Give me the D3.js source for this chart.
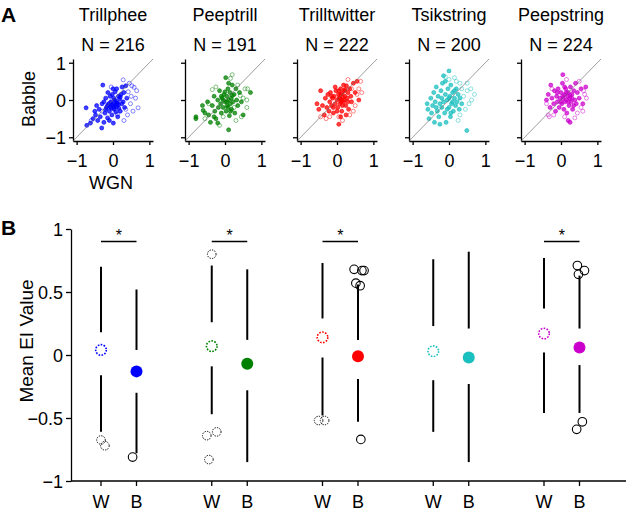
<!DOCTYPE html>
<html lang="en">
<head>
    <meta charset="UTF-8">
    <script src="https://cdn.jsdelivr.net/npm/d3@7"></script>
    <title>EI values</title>
    <style>
        body {
            margin: 0;
            background: white;
        }
        svg text {
            font-family: "Liberation Sans", Arial, sans-serif;
            fill: black;
        }
        .axis path, .axis line {
            stroke: black;
            stroke-width: 1.3px;
        }
        .axis text {
            font-size: 18px;
        }
    </style>
</head>
<body>
    <svg id="chart" width="627" height="515"></svg>

    <script>
        const species = ["Trillphee", "Peeptrill", "Trilltwitter", "Tsikstring", "Peepstring"];
        const counts = [216, 191, 222, 200, 224];
        const colors = ["#0000ff", "#008000", "#ff0000", "#1abfbf", "#cc00cc"];

        // scatter points [WGN, Babble, filled]
        const trillpheePts = [[-0.72,-0.68,1],[-0.62,-0.62,1],[-0.55,-0.5,1],[-0.74,-0.21,1],[-0.48,-0.4,1],[-0.42,-0.55,1],[-0.38,-0.25,1],[-0.35,-0.45,1],[-0.31,-0.75,1],[-0.3,-0.1,1],[-0.28,0.4,1],[-0.25,-0.6,1],[-0.22,-0.35,1],[-0.2,0.05,1],[-0.18,-0.2,1],[-0.15,-0.48,1],[-0.14,0.2,1],[-0.12,-0.1,1],[-0.1,-0.3,1],[-0.08,0.1,1],[-0.06,-0.05,1],[-0.05,-0.22,1],[-0.03,-0.4,1],[-0.02,0.15,1],[0,-0.12,1],[0.01,-0.62,1],[0.02,0.05,1],[0.03,-0.25,1],[0.05,-0.15,1],[0.06,0.22,1],[0.07,-0.05,1],[0.08,-0.32,1],[0.1,-0.18,1],[0.1,0.3,1],[0.12,-0.08,1],[0.13,-0.45,1],[0.15,0.1,1],[0.16,-0.22,1],[0.18,0.02,1],[0.2,-0.3,1],[0.22,0.15,1],[0.24,-0.1,1],[0.25,0.35,1],[0.28,-0.05,1],[0.3,0.2,1],[0.32,-0.2,1],[0.35,0.38,1],[0.38,0.05,1],[-0.45,-0.15,1],[-0.5,-0.3,1],[-0.1,-0.55,1],[0,0.3,1],[-0.25,-0.05,1],[0.05,0,1],[-0.15,-0.15,1],[0.1,-0.1,1],[-0.05,-0.1,1],[0.15,-0.12,1],[0.02,-0.2,1],[-0.08,-0.18,1],[0.2,0.08,1],[-0.2,-0.25,1],
            [0.28,0.54,0],[0.58,0.34,0],[0.69,-0.21,0],[0.45,0.45,0],[0.5,0.1,0],[0.62,0.05,0],[0.55,-0.3,0],[0.4,-0.4,0],[0.65,0.25,0],[0.42,0.22,0],[0.3,-0.55,0],[0.48,-0.1,0],[-0.3,-0.3,0],[-0.6,-0.55,0],[0.12,-0.38,0],[0.35,-0.25,0],[0.52,0.38,0],[-0.05,0.35,0]];
        const peeptrillPts = [[-0.8,-0.45,1],[-0.8,-0.5,1],[-0.62,-0.15,1],[-0.6,-0.28,1],[-0.55,-0.35,1],[-0.48,-0.05,1],[-0.45,-0.4,1],[-0.4,-0.6,1],[-0.35,-0.15,1],[-0.3,0.1,1],[-0.28,-0.3,1],[-0.25,-0.5,1],[-0.2,0,1],[-0.18,-0.2,1],[-0.15,0.25,1],[-0.12,-0.1,1],[-0.1,-0.35,1],[-0.08,0.05,1],[-0.05,-0.2,1],[-0.03,0.15,1],[0,-0.05,1],[0.02,0.6,1],[0.03,-0.3,1],[0.05,0.1,1],[0.06,-0.15,1],[0.08,0.3,1],[0.1,-0.8,1],[0.1,0,1],[0.12,-0.42,1],[0.14,0.2,1],[0.15,-0.1,1],[0.17,0.05,1],[0.18,-0.25,1],[0.2,0.4,1],[0.22,-0.05,1],[0.25,0.15,1],[0.27,-0.35,1],[0.3,0.3,1],[0.32,0,1],[0.35,-0.15,1],[0.4,0.2,1],[0.45,-0.05,1],[0.5,-0.4,1],[0.7,0.2,1],[-0.2,-0.62,1],[0,0.22,1],[-0.1,0.1,1],[0.08,-0.2,1],[0.2,0.12,1],[0.05,-0.05,1],[-0.05,0,1],[0.15,-0.3,1],[0.1,0.45,1],[-0.3,-0.45,1],
            [0.2,0.68,0],[0.15,0.58,0],[-0.35,0.28,0],[-0.15,-0.68,0],[0.55,0.3,0],[0.6,0,0],[0.6,-0.2,0],[0.45,-0.45,0],[0.35,0.4,0],[-0.45,-0.1,0],[-0.55,-0.5,0],[0.3,-0.55,0],[0.62,0.3,0],[0.42,0.12,0],[-0.05,-0.45,0],[0.5,0.05,0],[-0.25,0.35,0],[0.25,-0.2,0]];
        const trilltwitterPts = [[-0.55,-0.1,1],[-0.5,-0.25,1],[-0.45,0.25,1],[-0.4,-0.15,1],[-0.35,-0.4,1],[-0.32,0.05,1],[-0.28,-0.2,1],[-0.25,0.15,1],[-0.22,-0.3,1],[-0.2,-0.05,1],[-0.18,0.2,1],[-0.15,-0.15,1],[-0.12,0.05,1],[-0.1,-0.35,1],[-0.08,0.1,1],[-0.05,-0.1,1],[-0.03,0.25,1],[0,0,1],[0.02,-0.2,1],[0.04,0.15,1],[0.05,-0.65,1],[0.06,0.05,1],[0.08,-0.1,1],[0.1,0.3,1],[0.11,0,1],[0.13,-0.3,1],[0.14,0.18,1],[0.16,0.08,1],[0.18,-0.05,1],[0.2,0.25,1],[0.22,0.1,1],[0.24,-0.15,1],[0.26,0.38,1],[0.28,0.05,1],[0.3,0.2,1],[0.32,-0.25,1],[0.35,0.3,1],[0.38,0.1,1],[0.4,-0.05,1],[0.45,0.45,1],[0.5,0.2,1],[0.55,0.5,1],[0.6,0,1],[0.1,-0.45,1],[-0.05,0.35,1],[0.18,0.4,1],[0,-0.3,1],[0.25,-0.4,1],[0.1,0.15,1],[0.15,-0.15,1],[0.05,0.25,1],[-0.1,-0.2,1],[0.2,0,1],[0.3,-0.05,1],[-0.15,0.1,1],[0.08,0.05,1],[0.22,0.28,1],[0.12,-0.05,1],
            [0.65,0.5,0],[0.3,0.55,0],[0.45,-0.3,0],[0.55,0.15,0],[0.68,0.2,0],[-0.3,-0.5,0],[0.15,-0.55,0],[0.4,0.3,0],[0.5,-0.15,0],[-0.45,-0.45,0],[0.35,-0.4,0],[0.6,0.3,0],[-0.2,-0.45,0],[0.05,-0.45,0]];
        const tsikstringPts = [[-0.6,-0.1,1],[-0.58,-0.25,1],[-0.55,-0.5,1],[-0.5,0.05,1],[-0.48,-0.35,1],[-0.45,-0.15,1],[-0.42,0.2,1],[-0.4,-0.6,1],[-0.38,-0.05,1],[-0.35,0.35,1],[-0.32,-0.3,1],[-0.3,0.1,1],[-0.28,-0.45,1],[-0.25,-0.1,1],[-0.22,0.25,1],[-0.2,-0.2,1],[-0.18,0.45,1],[-0.15,0.65,1],[-0.15,-0.05,1],[-0.12,-0.35,1],[-0.1,0.15,1],[-0.08,-0.6,1],[-0.05,0,1],[-0.03,0.3,1],[0,0.78,1],[0,-0.2,1],[0.02,0.1,1],[0.04,-0.45,1],[0.05,0.4,1],[0.07,-0.1,1],[0.1,0.2,1],[0.12,-0.3,1],[0.15,0.05,1],[0.18,-0.15,1],[0.2,0.3,1],[0.22,-0.05,1],[0.25,0.15,1],[0.28,-0.25,1],[0.3,0.05,1],[0.35,-0.1,1],[0.49,-0.82,1],[-0.25,-0.65,1],[-0.1,0.5,1],[0.1,-0.05,1],[-0.05,-0.25,1],[0.15,0.25,1],[-0.2,0.05,1],[0.05,-0.35,1],[0,0.05,1],[-0.35,-0.2,1],
            [0.15,0.6,0],[0.3,0.45,0],[0.5,0.25,0],[0.6,0.3,0],[0.62,0,0],[0.7,0.15,0],[0.55,-0.1,0],[0.4,0.1,0],[0.45,-0.25,0],[0.35,0.3,0],[0.2,0.5,0],[-0.1,0.62,0],[0.3,-0.4,0],[0.5,0.45,0],[0.25,-0.55,0],[0,0.55,0]];
        const peepstringPts = [[-0.4,0,1],[-0.35,0.15,1],[-0.3,-0.2,1],[-0.28,0.4,1],[-0.25,0.05,1],[-0.2,-0.1,1],[-0.18,0.25,1],[-0.15,-0.3,1],[-0.12,0.1,1],[-0.1,-0.05,1],[-0.08,0.3,1],[-0.05,-0.2,1],[-0.03,0.05,1],[0,0.2,1],[0.02,-0.1,1],[0.04,0.45,1],[0.05,0.68,1],[0.06,0.05,1],[0.08,-0.25,1],[0.1,0.15,1],[0.11,-0.05,1],[0.13,0.3,1],[0.15,0,1],[0.16,-0.35,1],[0.18,0.1,1],[0.2,-0.55,1],[0.2,0.2,1],[0.22,-0.15,1],[0.24,0.05,1],[0.26,0.35,1],[0.28,-0.05,1],[0.3,0.15,1],[0.32,-0.25,1],[0.35,0.25,1],[0.38,0,1],[0.4,0.45,1],[0.42,-0.1,1],[0.45,0.2,1],[0.5,0.05,1],[0.55,0.3,1],[0.6,-0.1,1],[0.68,0.35,1],[0.25,-0.6,1],[0.1,0.35,1],[0.2,-0.05,1],[0.05,0.1,1],[0.3,0.05,1],[0.15,0.2,1],[0,-0.05,1],[0.25,0.12,1],[-0.1,0.2,1],[0.35,-0.15,1],
            [-0.4,-0.1,0],[-0.35,-0.4,0],[-0.32,-0.45,0],[0.6,-0.3,0],[0.65,0.15,0],[0.7,0.05,0],[0.45,-0.35,0],[0.1,-0.45,0],[0.38,-0.48,0],[0.5,0.5,0],[0.55,-0.2,0],[-0.2,-0.4,0],[0.15,0.55,0],[-0.25,0.3,0],[0.62,0.25,0]];
        const scatterData = [trillpheePts, peeptrillPts, trilltwitterPts, tsikstringPts, peepstringPts];

        // panel B: whisker ends, quartiles, medians (W = white noise, B = babble)
        const wHi = [0.70, 0.71, 0.73, 0.76, 0.77];
        const wQ3 = [0.18, 0.26, 0.29, 0.23, 0.37];
        const wMed = [0.04, 0.07, 0.14, 0.03, 0.17];
        const wQ1 = [-0.16, -0.09, -0.02, -0.20, 0.02];
        const wLo = [-0.61, -0.47, -0.48, -0.61, -0.46];
        const bHi = [0.52, 0.68, 0.56, 0.82, 0.63];
        const bQ3 = [0.04, 0.12, 0.12, 0.21, 0.21];
        const bMed = [-0.13, -0.07, -0.01, -0.02, 0.06];
        const bQ1 = [-0.30, -0.28, -0.19, -0.23, -0.08];
        const bLo = [-0.78, -0.85, -0.53, -0.85, -0.46];
        const significant = [true, true, true, false, true];
        // outliers [species, condition (0 = W, 1 = B) + jitter, value]
        const outliers = [
            [0, 0.00, -0.675], [0, 0.11, -0.72], [0, 0.89, -0.81],
            [1, 0.00, 0.80], [1, -0.14, -0.64], [1, 0.14, -0.61], [1, -0.08, -0.83],
            [2, -0.11, -0.52], [2, 0.06, -0.52],
            [2, 0.89, 0.68], [2, 1.11, 0.67], [2, 1.17, 0.67], [2, 0.94, 0.57], [2, 1.06, 0.55], [2, 1.08, -0.67],
            [4, 0.94, 0.71], [4, 1.14, 0.67], [4, 0.97, 0.64], [4, 1.08, -0.53], [4, 0.92, -0.59]
        ];
        const condLabels = ["W", "B"];

        const svg = d3.select("#chart");

        // ---------- panel A ----------
        const panelCenters = d3.scalePoint().domain(species).range([113, 561]);
        const yA = d3.scaleLinear().domain([-1.1, 1.1]).range([141, 59]);

        species.forEach((name, i) => {
            const cx = panelCenters(name);
            const xA = d3.scaleLinear().domain([-1.1, 1.1]).range([cx - 40, cx + 40]);
            const g = svg.append("g");

            g.append("g").attr("class", "axis")
                .attr("transform", "translate(0,141)")
                .call(d3.axisBottom(xA).tickValues([-1, 0, 1]).tickSize(4).tickSizeOuter(0).tickFormat(d3.format("d")))
                .selectAll("text").attr("dy", "1.05em");
            g.append("g").attr("class", "axis")
                .attr("transform", `translate(${cx - 40},0)`)
                .call(d3.axisLeft(yA).tickValues([-1, 0, 1]).tickSize(4).tickSizeOuter(0)
                    .tickFormat(i === 0 ? d3.format("d") : ""))
                .selectAll("text").attr("dy", "0.35em");

            // open circles first, filled ones on top
            const pts = scatterData[i].slice().sort((a, b) => a[2] - b[2]);
            g.selectAll("circle.pt")
                .data(pts)
                .enter().append("circle")
                .attr("class", "pt")
                .attr("cx", d => xA(d[0]))
                .attr("cy", d => yA(d[1]))
                .attr("r", 2)
                .attr("fill", d => d[2] ? colors[i] : "none")
                .attr("fill-opacity", 0.75)
                .attr("stroke", colors[i])
                .attr("stroke-opacity", d => d[2] ? 0.8 : 0.6)
                .attr("stroke-width", 0.8);

            g.append("line")
                .attr("x1", xA(-1.1)).attr("y1", yA(-1.1))
                .attr("x2", xA(1.1)).attr("y2", yA(1.1))
                .attr("stroke", "#666").attr("stroke-opacity", 0.8).attr("stroke-width", 0.8);

            g.append("text").attr("x", cx).attr("y", 21)
                .attr("text-anchor", "middle").style("font-size", "18px").text(name);
            g.append("text").attr("x", cx).attr("y", 51)
                .attr("text-anchor", "middle").style("font-size", "18px").text(`N = ${counts[i]}`);
        });

        svg.append("text").attr("x", 1).attr("y", 22)
            .style("font-size", "21px").style("font-weight", "bold").text("A");
        svg.append("text").attr("transform", "translate(35,99) rotate(-90)")
            .attr("text-anchor", "middle").style("font-size", "18px").text("Babble");
        svg.append("text").attr("x", 111).attr("y", 189)
            .attr("text-anchor", "middle").style("font-size", "18px").text("WGN");

        // ---------- panel B ----------
        const groupX = d3.scalePoint().domain(species).range([101, 544]);
        const condX = d3.scaleLinear().domain([0, 1]).range([0, 35.5]);
        const yB = d3.scaleLinear().domain([-1, 1]).range([481, 229]);
        const px = (i, c) => groupX(species[i]) + condX(c);

        svg.append("g").attr("class", "axis")
            .attr("transform", "translate(71,0)")
            .call(d3.axisLeft(yB).tickValues([-1, -0.5, 0, 0.5, 1]).tickSize(5).tickSizeOuter(0)
                .tickFormat(d => d === 0 || Math.abs(d) === 1 ? d3.format("d")(d) : d3.format(".1f")(d)))
            .selectAll("text").attr("dy", "0.35em");

        svg.append("line")
            .attr("x1", 71).attr("x2", 626)
            .attr("y1", yB(-1)).attr("y2", yB(-1))
            .attr("stroke", "black").attr("stroke-width", 1.3);

        species.forEach((name, i) => {
            [0, 1].forEach(c => {
                const x = px(i, c);
                svg.append("line")
                    .attr("x1", x).attr("x2", x)
                    .attr("y1", yB(-1)).attr("y2", yB(-1) + 5)
                    .attr("stroke", "black").attr("stroke-width", 1.3);
                svg.append("text")
                    .attr("x", x).attr("y", 508)
                    .attr("text-anchor", "middle").style("font-size", "18px")
                    .text(condLabels[c]);
            });
        });

        const boxes = [];
        species.forEach((name, i) => {
            boxes.push({ i: i, c: 0, hi: wHi[i], q3: wQ3[i], med: wMed[i], q1: wQ1[i], lo: wLo[i] });
            boxes.push({ i: i, c: 1, hi: bHi[i], q3: bQ3[i], med: bMed[i], q1: bQ1[i], lo: bLo[i] });
        });

        // whiskers from the box edges out to the extremes
        svg.selectAll("line.whiskHi")
            .data(boxes).enter().append("line")
            .attr("x1", d => px(d.i, d.c)).attr("x2", d => px(d.i, d.c))
            .attr("y1", d => yB(d.hi)).attr("y2", d => yB(d.q3))
            .attr("stroke", "black").attr("stroke-width", 2);
        svg.selectAll("line.whiskLo")
            .data(boxes).enter().append("line")
            .attr("x1", d => px(d.i, d.c)).attr("x2", d => px(d.i, d.c))
            .attr("y1", d => yB(d.q1)).attr("y2", d => yB(d.lo))
            .attr("stroke", "black").attr("stroke-width", 2);

        svg.selectAll("circle.med")
            .data(boxes).enter().append("circle")
            .attr("cx", d => px(d.i, d.c))
            .attr("cy", d => yB(d.med))
            .attr("r", d => d.c === 0 ? 5.3 : 6)
            .attr("fill", d => d.c === 0 ? "white" : colors[d.i])
            .attr("stroke", d => colors[d.i])
            .attr("stroke-width", d => d.c === 0 ? 1.6 : 0)
            .attr("stroke-dasharray", d => d.c === 0 ? "1.6,1.4" : null);

        svg.selectAll("circle.out")
            .data(outliers).enter().append("circle")
            .attr("cx", d => px(d[0], d[1]))
            .attr("cy", d => yB(d[2]))
            .attr("r", 4.3)
            .attr("fill", "none")
            .attr("stroke", "black")
            .attr("stroke-width", d => d[1] < 0.5 ? 1 : 1.1)
            .attr("stroke-dasharray", d => d[1] < 0.5 ? "1.3,1.2" : null);

        species.forEach((name, i) => {
            if (!significant[i]) return;
            const x0 = px(i, 0), x1 = px(i, 1);
            svg.append("line")
                .attr("x1", x0).attr("x2", x1)
                .attr("y1", yB(0.9)).attr("y2", yB(0.9))
                .attr("stroke", "black").attr("stroke-width", 1.5);
            svg.append("text")
                .attr("x", (x0 + x1) / 2).attr("y", yB(0.9) - 0.5)
                .attr("text-anchor", "middle").style("font-size", "16px").text("*");
        });

        svg.append("text").attr("x", 1).attr("y", 235)
            .style("font-size", "21px").style("font-weight", "bold").text("B");
        svg.append("text").attr("transform", "translate(33,341) rotate(-90)")
            .attr("text-anchor", "middle").style("font-size", "19px").text("Mean EI Value");
    </script>
</body>
</html>
